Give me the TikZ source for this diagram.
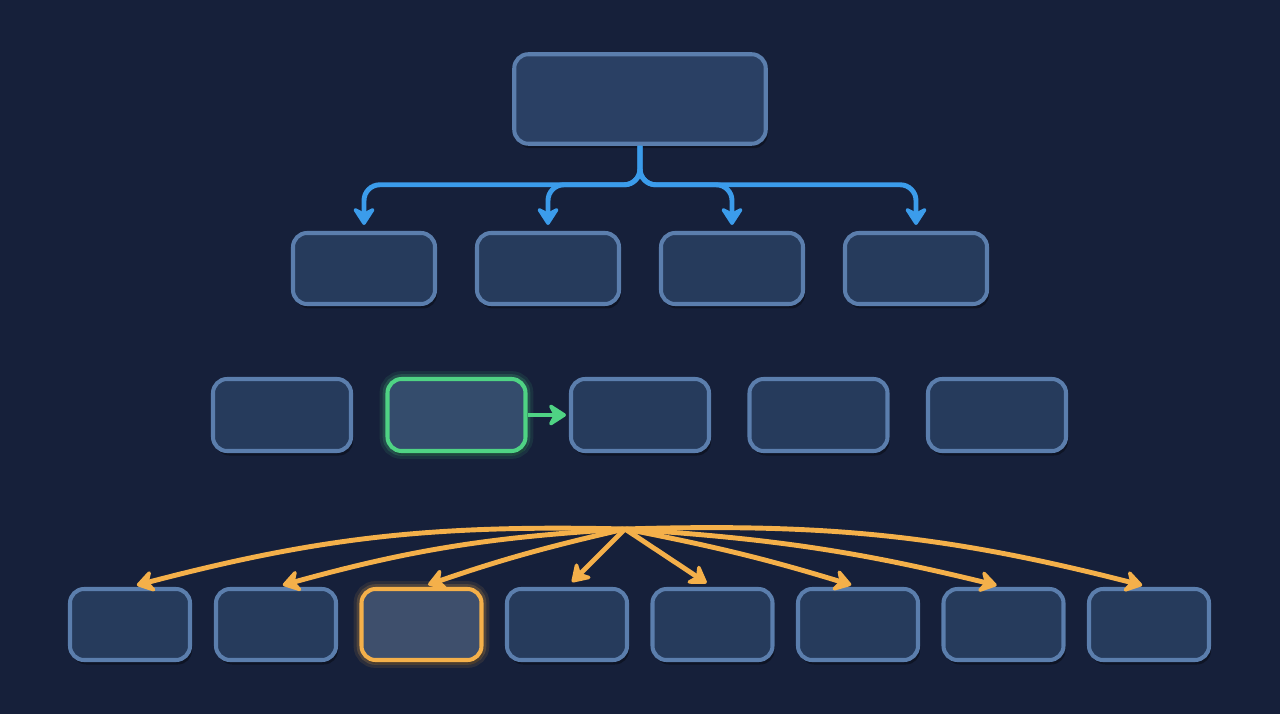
\documentclass[tikz,border=0pt]{standalone}
\usetikzlibrary{arrows.meta,shadows}
\definecolor{bgnavy}{HTML}{16203A}
\definecolor{boxfill}{HTML}{263B5C}
\definecolor{boxline}{HTML}{5B7EAD}
\definecolor{rootfill}{HTML}{2A4064}
\definecolor{arrblue}{HTML}{3B9CEB}
\definecolor{selgreen}{HTML}{4FD384}
\definecolor{selorange}{HTML}{F4B04A}
\definecolor{greenfill}{HTML}{344C6C}
\definecolor{orangefill}{HTML}{3E4F6C}
\begin{document}
\begin{tikzpicture}[
	blk/.style={draw=boxline, fill=boxfill, line width=2.3pt, rounded corners=8pt, inner sep=0pt,
		drop shadow={shadow xshift=0.4mm, shadow yshift=-0.9mm, opacity=0.35, fill=black}},
	toprow/.style={blk, fill=rootfill, minimum width=5.03cm, minimum height=1.79cm},
	rowtwo/.style={blk, minimum width=2.84cm, minimum height=1.42cm},
	rowthree/.style={blk, minimum width=2.76cm, minimum height=1.44cm},
	rowfour/.style={blk, minimum width=2.40cm, minimum height=1.42cm},
	glow/.style={preaction={draw=#1, line width=9pt, opacity=0.10},
		preaction={draw=#1, line width=5.5pt, opacity=0.18}},
	bluearr/.style={draw=arrblue, line width=2.8pt, rounded corners=9pt, shorten >=1.2mm,
		-{Stealth[length=4.2mm, width=5.4mm, inset=1.4mm, round]}},
	greenarr/.style={draw=selgreen, line width=2.8pt, shorten >=0.6mm,
		-{Stealth[length=4.2mm, width=5.4mm, inset=1.4mm, round]}},
	orangearr/.style={draw=selorange, line width=2.8pt, shorten >=1.4mm,
		-{Stealth[length=4.2mm, width=5.4mm, inset=1.4mm, round]}}]
	% background
	\fill[bgnavy] (0,0) rectangle (25.6,14.28);
	% root
	\node[toprow] (root) at (12.80,12.30) {};
	% first level
	\node[rowtwo] (c1) at (7.28,8.91) {};
	\node[rowtwo] (c2) at (10.96,8.91) {};
	\node[rowtwo] (c3) at (14.64,8.91) {};
	\node[rowtwo] (c4) at (18.32,8.91) {};
	% middle row
	\node[rowthree] (m1) at (5.64,5.98) {};
	\node[rowthree, draw=selgreen, fill=greenfill, glow=selgreen, drop shadow={opacity=0}] (m2) at (9.13,5.98) {};
	\node[rowthree] (m3) at (12.80,5.98) {};
	\node[rowthree] (m4) at (16.37,5.98) {};
	\node[rowthree] (m5) at (19.94,5.98) {};
	% bottom row
	\node[rowfour] (d1) at (2.60,1.79) {};
	\node[rowfour] (d2) at (5.52,1.79) {};
	\node[rowfour, draw=selorange, fill=orangefill, glow=selorange, drop shadow={opacity=0}] (d3) at (8.43,1.79) {};
	\node[rowfour] (d4) at (11.34,1.79) {};
	\node[rowfour] (d5) at (14.25,1.79) {};
	\node[rowfour] (d6) at (17.16,1.79) {};
	\node[rowfour] (d7) at (20.07,1.79) {};
	\node[rowfour] (d8) at (22.98,1.79) {};
	% tree links
	\draw[bluearr] (root.south) -- ++(0,-0.78) -| (c1.north);
	\draw[bluearr] (root.south) -- ++(0,-0.78) -| (c2.north);
	\draw[bluearr] (root.south) -- ++(0,-0.78) -| (c3.north);
	\draw[bluearr] (root.south) -- ++(0,-0.78) -| (c4.north);
	% step
	\draw[greenarr] (m2.east) -- (m3.west);
	% fan out
	\coordinate (fan) at (12.50,3.70);
	\draw[orangearr] (fan) to[bend right=8] (d1.north);
	\draw[orangearr] (fan) to[bend right=6] (d2.north);
	\draw[orangearr] (fan) to[bend right=3] (d3.north);
	\draw[orangearr] (fan) -- (d4.north);
	\draw[orangearr] (fan) -- (d5.north);
	\draw[orangearr] (fan) to[bend left=3] (d6.north);
	\draw[orangearr] (fan) to[bend left=5] (d7.north);
	\draw[orangearr] (fan) to[bend left=8] (d8.north);
\end{tikzpicture}
\end{document}
